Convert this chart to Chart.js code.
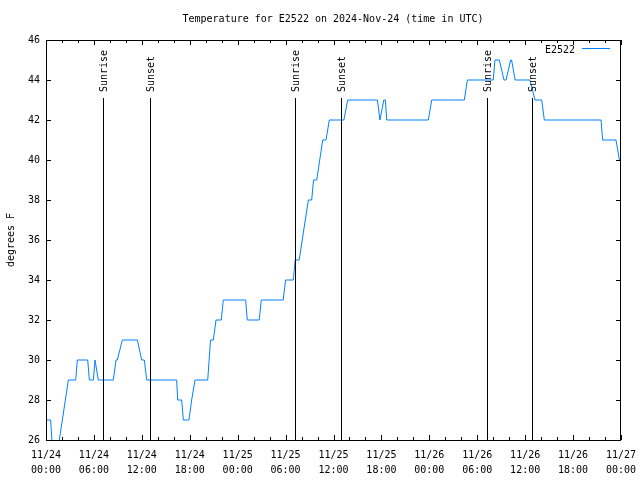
<!DOCTYPE html>
<html>
<head>
<meta charset="utf-8">
<script src="https://cdn.jsdelivr.net/npm/chart.js@4/dist/chart.umd.min.js"></script>
<style>
  html, body { margin: 0; padding: 0; background: #fff; }
  #wrap { width: 640px; height: 480px; }
</style>
</head>
<body>
<div id="wrap"><canvas id="tempChart" width="640" height="480"></canvas></div>
<script>
// hours since 11/24 00:00 UTC, and temperature
var hours = [0.0, 0.58, 0.9, 1.4, 1.67, 2.8, 3.72, 3.92, 5.22, 5.43, 5.93, 6.14, 6.55,
  8.43, 8.77, 8.93, 9.56, 11.44, 11.98, 12.31, 12.61, 16.36, 16.49, 16.99, 17.2, 17.9,
  18.24, 18.66, 20.25, 20.6, 20.95, 21.29, 21.95, 22.2, 25.0, 25.2, 26.7, 26.96, 29.7,
  30.0, 30.97, 31.2, 31.7, 32.85, 33.27, 33.5, 33.9, 34.65, 35.06, 35.48, 37.3, 37.78,
  41.5, 41.82, 42.3, 42.5, 42.66, 47.87, 48.3, 52.38, 52.76, 56.0, 56.22, 56.76, 57.35,
  57.6, 58.19, 58.3, 58.75, 60.6, 61.23, 62.07, 62.4, 69.5, 69.7, 71.37, 71.8, 72.0];
var temps = [27, 27, 25, 25, 26, 29, 29, 30, 30, 29, 29, 30, 29,
  29, 30, 30, 31, 31, 30, 30, 29, 29, 28, 28, 27, 27,
  28, 29, 29, 31, 31, 32, 32, 33, 33, 32, 32, 33, 33,
  34, 34, 35, 35, 38, 38, 39, 39, 41, 41, 42, 42, 43,
  43, 42, 43, 43, 42, 42, 43, 43, 44, 44, 45, 45, 44,
  44, 45, 45, 44, 44, 43, 43, 42, 42, 41, 41, 40, 40];

var markerHours = [7.18, 13.06, 31.22, 36.98, 55.26, 60.9];
var markerLabels = ['Sunrise', 'Sunset', 'Sunrise', 'Sunset', 'Sunrise', 'Sunset'];

var dayLabels = ['11/24', '11/25', '11/26', '11/27'];
var seriesName = 'E2522';
var titleText = 'Temperature for E2522 on 2024-Nov-24 (time in UTC)';
var yTitle = 'degrees F';

var FONT = '10px "DejaVu Sans Mono", monospace';

var points = hours.map(function (h, i) { return { x: h, y: temps[i] }; });

// gnuplot-ish frame, inner ticks, sunrise/sunset lines, legend and titles
var gnuplotDecor = {
  id: 'gnuplotDecor',
  afterDatasetsDraw: function (chart) {
    var ctx = chart.ctx;
    var a = chart.chartArea;
    var xs = chart.scales.x, ys = chart.scales.y;
    ctx.save();
    ctx.strokeStyle = '#000';
    ctx.lineWidth = 1;

    // sunrise / sunset markers
    ctx.fillStyle = '#000';
    ctx.font = FONT;
    markerHours.forEach(function (h, i) {
      var px = Math.round(xs.getPixelForValue(h)) + 0.5;
      ctx.beginPath();
      ctx.moveTo(px, a.top + 58);
      ctx.lineTo(px, a.bottom);
      ctx.stroke();
      ctx.save();
      ctx.translate(px + 1, a.top + 52);
      ctx.rotate(-Math.PI / 2);
      ctx.textAlign = 'left';
      ctx.textBaseline = 'middle';
      ctx.fillText(markerLabels[i], 0, 0);
      ctx.restore();
    });

    // frame
    ctx.strokeRect(a.left + 0.5, a.top + 0.5, a.right - a.left - 1, a.bottom - a.top);

    // x ticks (major every 6h, minor every 2h), bottom and top
    ctx.beginPath();
    for (var h = 0; h <= 72; h += 2) {
      var px = Math.round(xs.getPixelForValue(h)) + 0.5;
      var len = (h % 6 === 0) ? 5 : 3;
      ctx.moveTo(px, a.bottom); ctx.lineTo(px, a.bottom - len);
      ctx.moveTo(px, a.top); ctx.lineTo(px, a.top + len);
    }
    // y ticks left and right
    for (var t = 26; t <= 46; t += 2) {
      var py = Math.round(ys.getPixelForValue(t)) + 0.5;
      ctx.moveTo(a.left, py); ctx.lineTo(a.left + 5, py);
      ctx.moveTo(a.right, py); ctx.lineTo(a.right - 5, py);
    }
    ctx.stroke();

    // legend
    ctx.textAlign = 'right';
    ctx.textBaseline = 'middle';
    ctx.fillText(seriesName, 575, 50);
    ctx.strokeStyle = '#0080ff';
    ctx.beginPath();
    ctx.moveTo(582, 48.5);
    ctx.lineTo(610, 48.5);
    ctx.stroke();

    // title and y label
    ctx.fillStyle = '#000';
    ctx.textAlign = 'center';
    ctx.fillText(titleText, 333, 19);
    ctx.save();
    ctx.translate(11, 240);
    ctx.rotate(-Math.PI / 2);
    ctx.fillText(yTitle, 0, 0);
    ctx.restore();
    ctx.restore();
  }
};

var ctx = document.getElementById('tempChart').getContext('2d');
var myChart = new Chart(ctx, {
  type: 'line',
  data: {
    datasets: [{
      label: seriesName,
      data: points,
      borderColor: '#0080ff',
      backgroundColor: '#0080ff',
      borderWidth: 1,
      pointRadius: 0,
      tension: 0,
      fill: false
    }]
  },
  options: {
    responsive: false,
    animation: false,
    events: [],
    layout: { padding: { left: 0, top: 40, right: 19, bottom: 0 } },
    plugins: {
      legend: { display: false },
      tooltip: { enabled: false },
      title: { display: false }
    },
    scales: {
      x: {
        type: 'linear',
        min: 0,
        max: 72,
        grid: { display: false, drawTicks: false },
        border: { display: false },
        afterFit: function (scale) {
          scale.height = 40;
          scale.paddingLeft = 0;
          scale.paddingRight = 0;
        },
        ticks: {
          stepSize: 6,
          autoSkip: false,
          maxRotation: 0,
          padding: 8,
          color: '#000',
          font: { family: '"DejaVu Sans Mono", monospace', size: 10, lineHeight: 1.5 },
          callback: function (v) {
            var d = Math.floor(v / 24);
            var hh = v % 24;
            return [dayLabels[d], (hh < 10 ? '0' : '') + hh + ':00'];
          }
        }
      },
      y: {
        min: 26,
        max: 46,
        grid: { display: false, drawTicks: false },
        border: { display: false },
        afterFit: function (scale) {
          scale.width = 46;
          scale.paddingTop = 0;
          scale.paddingBottom = 0;
        },
        ticks: {
          stepSize: 2,
          padding: 6,
          color: '#000',
          font: { family: '"DejaVu Sans Mono", monospace', size: 10 }
        }
      }
    }
  },
  plugins: [gnuplotDecor]
});
</script>
</body>
</html>
